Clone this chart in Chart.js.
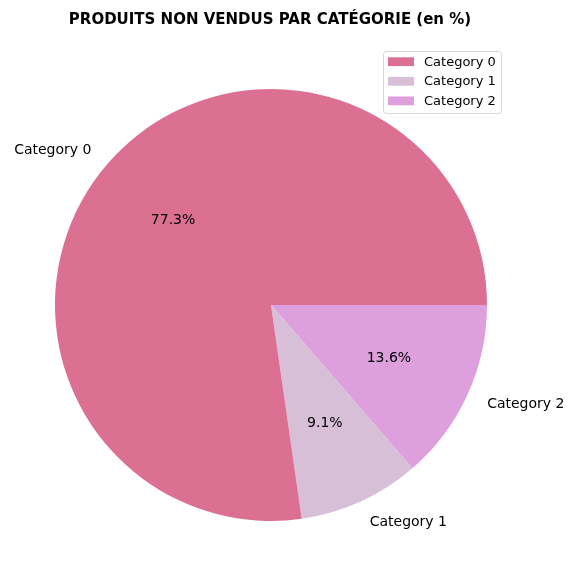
<!DOCTYPE html>
<html>
<head>
<meta charset="utf-8">
<script src="https://cdn.jsdelivr.net/npm/chart.js@4"></script>
<style>
  html, body { margin: 0; padding: 0; background: #ffffff; }
  #wrap { width: 576px; height: 576px; }
</style>
</head>
<body>
<div id="wrap"><canvas id="c" width="576" height="576"></canvas></div>
<script>
const titleText = "PRODUITS NON VENDUS PAR CATÉGORIE (en %)";
const categories = ["Category 0", "Category 1", "Category 2"];
const values = [17, 2, 3];
const colors = ["#DB7093", "#D8BFD8", "#DDA0DD"];

// matplotlib draws counter-clockwise from 3 o'clock; Chart.js draws clockwise,
// so feed the slices in reverse order starting at 3 o'clock.
const order = categories.map((_, i) => i).reverse();
const total = values.reduce((a, b) => a + b, 0);

const FONT = "'DejaVu Sans', sans-serif";

const overlay = {
  id: 'overlay',
  afterDraw(chart) {
    const ctx = chart.ctx;
    const meta = chart.getDatasetMeta(0);
    ctx.save();
    // title
    ctx.fillStyle = '#000';
    ctx.font = "bold 15px " + FONT;
    ctx.textAlign = 'center';
    ctx.textBaseline = 'middle';
    ctx.fillText(titleText, 270, 20);

    // labels and percentages
    meta.data.forEach((arc, j) => {
      const idx = order[j];
      const p = arc.getProps(['x', 'y', 'startAngle', 'endAngle', 'outerRadius'], true);
      const mid = (p.startAngle + p.endAngle) / 2;
      const c = Math.cos(mid), s = Math.sin(mid);
      const lx = p.x + 1.1 * p.outerRadius * c;
      const ly = p.y + 1.1 * p.outerRadius * s;
      ctx.font = "14px " + FONT;
      ctx.fillStyle = '#000';
      ctx.textBaseline = 'middle';
      ctx.textAlign = c > 0 ? 'left' : 'right';
      ctx.fillText(categories[idx], lx, ly + 1);
      const px = p.x + 0.6 * p.outerRadius * c;
      const py = p.y + 0.6 * p.outerRadius * s;
      ctx.textAlign = 'center';
      ctx.fillText((values[idx] / total * 100).toFixed(1) + '%', px, py);
    });

    // legend box
    const bx = 383.5, by = 51.5, bw = 118, bh = 62, r = 3;
    ctx.beginPath();
    ctx.moveTo(bx + r, by);
    ctx.lineTo(bx + bw - r, by);
    ctx.quadraticCurveTo(bx + bw, by, bx + bw, by + r);
    ctx.lineTo(bx + bw, by + bh - r);
    ctx.quadraticCurveTo(bx + bw, by + bh, bx + bw - r, by + bh);
    ctx.lineTo(bx + r, by + bh);
    ctx.quadraticCurveTo(bx, by + bh, bx, by + bh - r);
    ctx.lineTo(bx, by + r);
    ctx.quadraticCurveTo(bx, by, bx + r, by);
    ctx.closePath();
    ctx.fillStyle = 'rgba(255,255,255,0.8)';
    ctx.fill();
    ctx.strokeStyle = '#d6d6d6';
    ctx.lineWidth = 1;
    ctx.stroke();
    categories.forEach((cat, i) => {
      const y = 61.7 + i * 19.6;
      ctx.fillStyle = colors[i];
      ctx.fillRect(388, y - 4.4, 26, 8.8);
      ctx.fillStyle = '#000';
      ctx.font = "13px " + FONT;
      ctx.textAlign = 'left';
      ctx.textBaseline = 'middle';
      ctx.fillText(cat, 424, y + 0.5);
    });
    ctx.restore();
  }
};

new Chart(document.getElementById('c'), {
  type: 'pie',
  data: {
    labels: order.map(i => categories[i]),
    datasets: [{
      data: order.map(i => values[i]),
      backgroundColor: order.map(i => colors[i]),
      borderWidth: 0
    }]
  },
  options: {
    responsive: false,
    animation: false,
    rotation: 90,
    layout: { padding: { left: 55, right: 89, top: 89, bottom: 55 } },
    plugins: {
      legend: { display: false },
      title: { display: false },
      tooltip: { enabled: false }
    }
  },
  plugins: [overlay]
});
</script>
</body>
</html>
